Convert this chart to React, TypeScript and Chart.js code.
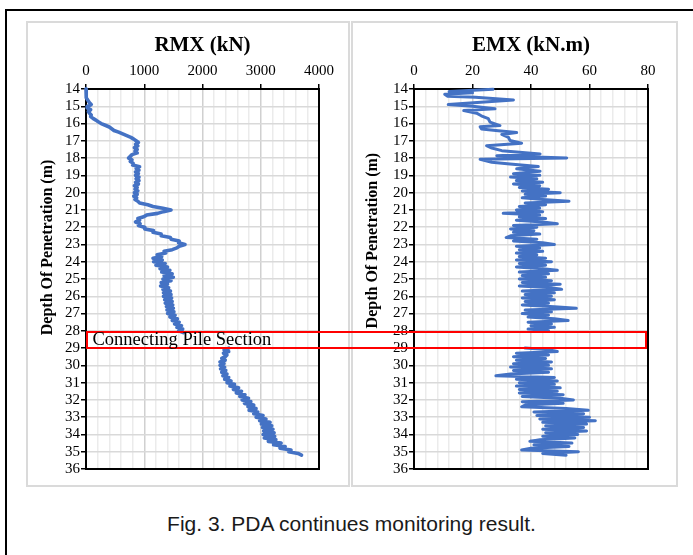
import React, { useEffect, useRef, useState } from "react";
import { Chart, registerables } from "chart.js";

Chart.register(...registerables);

// ---------- data ----------
const depthMin = 14;
const depthMax = 36;
const depthTitle = "Depth Of Penetration (m)";
const caption = "Fig. 3. PDA continues monitoring result.";
const connectingSection = [28, 29];
const connectingLabel = "Connecting Pile Section";

const rmxTitle = "RMX (kN)";
const rmxAxis = { max: 4000, step: 200, major: 1000 };
const rmxDepth = [
  14.0, 14.1, 14.2, 14.3, 14.4, 14.5, 14.6, 14.7, 14.8, 14.9,
  15.0, 15.1, 15.2, 15.3, 15.4, 15.5, 15.6, 15.7, 15.8, 15.9,
  16.0, 16.1, 16.2, 16.3, 16.4, 16.5, 16.6, 16.7, 16.8, 16.9,
  17.0, 17.1, 17.2, 17.3, 17.4, 17.5, 17.6, 17.7, 17.8, 17.9,
  18.0, 18.1, 18.2, 18.3, 18.4, 18.5, 18.6, 18.7, 18.8, 18.9,
  19.0, 19.1, 19.2, 19.3, 19.4, 19.5, 19.6, 19.7, 19.8, 19.9,
  20.0, 20.1, 20.2, 20.3, 20.4, 20.5, 20.6, 20.7, 20.8, 20.9,
  21.0, 21.1, 21.2, 21.3, 21.4, 21.5, 21.6, 21.7, 21.8, 21.9,
  22.0, 22.1, 22.2, 22.3, 22.4, 22.5, 22.6, 22.7, 22.8, 22.9,
  23.0, 23.1, 23.2, 23.3, 23.4, 23.5, 23.6, 23.7, 23.8, 23.9,
  24.0, 24.1, 24.2, 24.3, 24.4, 24.5, 24.6, 24.7, 24.8, 24.9,
  25.0, 25.1, 25.2, 25.3, 25.4, 25.5, 25.6, 25.7, 25.8, 25.9,
  26.0, 26.1, 26.2, 26.3, 26.4, 26.5, 26.6, 26.7, 26.8, 26.9,
  27.0, 27.1, 27.2, 27.3, 27.4, 27.5, 27.6, 27.7, 27.8, 27.9,
  28.0, 28.1,
  28.5,
  29.0, 29.1, 29.2, 29.3, 29.4, 29.5, 29.6, 29.7, 29.8, 29.9,
  30.0, 30.1, 30.2, 30.3, 30.4, 30.5, 30.6, 30.7, 30.8, 30.9,
  31.0, 31.1, 31.2, 31.3, 31.4, 31.5, 31.6, 31.7, 31.8, 31.9,
  32.0, 32.1, 32.2, 32.3, 32.4, 32.5, 32.6, 32.7, 32.8, 32.9,
  33.0, 33.1, 33.2, 33.3, 33.4, 33.5, 33.6, 33.7, 33.8, 33.9,
  34.0, 34.1, 34.2, 34.3, 34.4, 34.5, 34.6, 34.7, 34.8, 34.9,
  35.0, 35.1, 35.2,
];
const rmxValue = [
  0, 0, 5, 0, 10, 5, 20, 40, 60, 90,
  30, 20, 80, 40, 60, 90, 80, 120, 170, 210,
  260, 330, 400, 440, 480, 560, 630, 700, 770, 820,
  860, 900, 850, 890, 830, 880, 840, 880, 790, 760,
  730, 790, 760, 810, 800, 920, 860, 910, 850, 900,
  850, 910, 860, 910, 850, 900, 830, 880, 840, 890,
  830, 880, 820, 870, 840, 890, 920, 1060, 1150, 1320,
  1460, 1330, 1230, 1040, 990, 890, 920, 850, 930, 900,
  1000, 1010, 1160, 1150, 1290, 1290, 1450, 1460, 1600, 1590,
  1700, 1600, 1560, 1480, 1340, 1370, 1220, 1300, 1150, 1310,
  1160, 1360, 1200, 1400, 1270, 1440, 1300, 1480, 1340, 1500,
  1320, 1460, 1290, 1400, 1280, 1420, 1320, 1450, 1330, 1460,
  1330, 1470, 1350, 1480, 1360, 1490, 1380, 1500, 1390, 1510,
  1400, 1530, 1440, 1570, 1480, 1600, 1520, 1640, 1560, 1660,
  1590, 1670,
  null,
  2450, 2370, 2450, 2360, 2420, 2390, 2330, 2390, 2300, 2370,
  2300, 2380, 2310, 2400, 2330, 2420, 2350, 2450, 2380, 2490,
  2420, 2550, 2470, 2620, 2530, 2670, 2580, 2730, 2640, 2790,
  2680, 2830, 2720, 2880, 2780, 2920, 2800, 2950, 2880, 3040,
  2920, 3090, 2980, 3160, 3010, 3190, 3030, 3210, 3050, 3230,
  3040, 3240, 3060, 3260, 3130, 3350, 3220, 3420, 3330, 3520,
  3480, 3640, 3700,
];

const emxTitle = "EMX (kN.m)";
const emxAxis = { max: 80, step: 4, major: 20 };
const emxDepth = [
  14.02, 14.15, 14.22, 14.3, 14.42, 14.48, 14.63, 14.9, 15.0, 15.15,
  15.25, 15.4, 15.55, 15.72, 15.92, 16.12, 16.18, 16.32, 16.42, 16.52,
  16.63, 16.8, 16.98, 17.14, 17.28, 17.42, 17.57, 17.76, 17.86, 17.99,
  18.07, 18.24, 18.34, 18.49, 18.62, 18.76,
  18.9, 19.0, 19.1, 19.2, 19.3, 19.4, 19.5, 19.6, 19.7, 19.8, 19.9,
  20.0, 20.1, 20.2, 20.3, 20.4, 20.5, 20.6, 20.7, 20.8, 20.9,
  21.0, 21.1, 21.2, 21.3, 21.4, 21.5, 21.6, 21.7, 21.8, 21.9,
  22.0, 22.1, 22.2, 22.3, 22.4, 22.5, 22.6, 22.7, 22.8, 22.9,
  23.0, 23.1, 23.2, 23.3, 23.4, 23.5, 23.6, 23.7, 23.8, 23.9,
  24.0, 24.1, 24.2, 24.3, 24.4, 24.5, 24.6, 24.7, 24.8, 24.9,
  25.0, 25.1, 25.2, 25.3, 25.4, 25.5, 25.6, 25.7, 25.8, 25.9,
  26.0, 26.1, 26.2, 26.3, 26.4, 26.5, 26.6, 26.7, 26.8, 26.9,
  27.0, 27.1, 27.2, 27.3, 27.4, 27.5, 27.6, 27.7, 27.8, 27.9,
  28.0,
  28.5,
  29.0, 29.1, 29.2, 29.3, 29.4, 29.5, 29.6, 29.7, 29.8, 29.9,
  30.0, 30.1, 30.2, 30.3, 30.4, 30.5, 30.6, 30.7, 30.8, 30.9,
  31.0, 31.1, 31.2, 31.3, 31.4, 31.5, 31.6, 31.7, 31.8, 31.9,
  32.0, 32.1, 32.2, 32.3, 32.4, 32.5, 32.6, 32.7, 32.8, 32.9,
  33.0, 33.1, 33.2, 33.3, 33.4, 33.5, 33.6, 33.7, 33.8, 33.9,
  34.0, 34.1, 34.2, 34.3, 34.4, 34.5, 34.6, 34.7, 34.8, 34.9,
  35.0, 35.1, 35.2,
];
const emxValue = [
  27, 12, 20, 10.5, 11.5, 21, 34, 11.7, 20, 27.7,
  17, 21.4, 23, 25.4, 26, 29.4, 22.6, 23.1, 28.8, 35.1,
  30, 32.3, 32.8, 36.8, 24.8, 26.6, 30, 43.1, 28.3, 52.2,
  22.6, 26.6, 32.8, 42.5, 35.1, 43.1,
  34, 43, 33, 42, 35, 44, 34, 43, 36, 46, 37,
  50, 38, 45, 37, 44, 53, 38, 45, 36, 43,
  35, 44, 30.5, 43, 36, 45, 35, 44, 49, 34,
  42, 33, 41, 34, 43, 33, 31.5, 42, 34, 44,
  48, 35, 43, 36, 44, 35, 42, 36, 45, 35,
  47, 36, 45, 35, 44, 49, 36, 46, 37, 45,
  36, 47, 37, 50, 36, 47, 50.5, 37, 48, 38,
  47, 37, 48, 38, 46, 37, 48, 55.5, 38, 47,
  37, 46, 39, 48, 52.7, 39, 47, 40, 48, 39,
  46,
  null,
  38, 46, 49, 35, 46, 34, 45, 35, 47, 34,
  46, 33, 47, 34, 46, 33, 28, 48, 35, 49,
  36, 48, 35, 50, 36, 49, 36, 51, 37, 50,
  54.5, 37, 51, 38, 36.8, 52, 59.6, 41, 58, 42,
  60, 43, 62, 44, 59, 45, 58, 44, 59, 45,
  56, 44, 55, 43, 39.6, 54, 41, 53, 40, 36.8,
  56.2, 44, 52,
];

// ---------- styling ----------
const LINE_COLOR = "#4472C4";
const SERIF = '"Liberation Serif", "Times New Roman", serif';

const LEFT_PANEL = { x: 26, y: 21, w: 324, h: 466 };
const RIGHT_PANEL = { x: 351, y: 21, w: 327, h: 466 };

type Spec = {
  key: string;
  title: string;
  depth: number[];
  values: (number | null)[];
  axis: { max: number; step: number; major: number };
  yWidth: number;
  padRight: number;
  lineWidth: number;
  yTitleOffset: number;
  yTitleFrac: number;
};

const isMajor = (v: number, major: number) => {
  const r = Math.abs(v % major);
  return r < 1e-6 || Math.abs(r - major) < 1e-6;
};

function buildChart(canvas: HTMLCanvasElement, spec: Spec) {
  const data = spec.depth.map((d, i) => ({ x: spec.values[i], y: d }));
  const decor = {
    id: "decor-" + spec.key,
    beforeDatasetsDraw(chart: any) {
      const { ctx, chartArea: a } = chart;
      ctx.save();
      ctx.strokeStyle = "#000";
      ctx.lineWidth = 2;
      ctx.strokeRect(a.left, a.top, a.right - a.left, a.bottom - a.top);
      ctx.restore();
    },
    afterDraw(chart: any) {
      const { ctx, chartArea: a } = chart;
      ctx.save();
      ctx.fillStyle = "#000";
      ctx.font = "bold 21px " + SERIF;
      ctx.textAlign = "center";
      ctx.textBaseline = "alphabetic";
      ctx.fillText(spec.title, (a.left + a.right) / 2, a.top - 38);
      ctx.font = "bold 16px " + SERIF;
      ctx.translate(a.left - spec.yTitleOffset, a.top + (a.bottom - a.top) * spec.yTitleFrac);
      ctx.rotate(-Math.PI / 2);
      ctx.fillText(depthTitle, 0, 0);
      ctx.restore();
    },
  };

  return new Chart(canvas, {
    type: "scatter",
    data: {
      datasets: [
        {
          data: data as any,
          showLine: true,
          borderColor: LINE_COLOR,
          backgroundColor: LINE_COLOR,
          borderWidth: spec.lineWidth,
          borderJoinStyle: "round",
          borderCapStyle: "round",
          pointRadius: 0,
          pointHoverRadius: 0,
          tension: 0,
          spanGaps: false,
          clip: 6,
        } as any,
      ],
    },
    options: {
      responsive: false,
      animation: false,
      devicePixelRatio: 1,
      events: [],
      layout: { padding: { left: 0, top: 0, right: spec.padRight, bottom: 18 } },
      plugins: { legend: { display: false }, tooltip: { enabled: false }, title: { display: false } },
      scales: {
        x: {
          type: "linear",
          position: "top",
          min: 0,
          max: spec.axis.max,
          afterFit: (s: any) => {
            s.height = 68;
          },
          border: { display: false },
          grid: {
            color: (c: any) => (isMajor(c.tick.value, spec.axis.major) ? "#d0d0d0" : "#ebebeb"),
            lineWidth: 1.5,
            tickColor: (c: any) => (isMajor(c.tick.value, spec.axis.major) ? "#000" : "rgba(0,0,0,0)"),
            tickLength: 5,
            tickWidth: 1.5,
            drawTicks: true,
          },
          ticks: {
            stepSize: spec.axis.step,
            autoSkip: false,
            maxRotation: 0,
            minRotation: 0,
            padding: 4,
            color: "#000",
            font: { family: SERIF, size: 15 },
            callback: (v: any) => (isMajor(Number(v), spec.axis.major) ? String(v) : ""),
          },
        },
        y: {
          type: "linear",
          position: "left",
          reverse: true,
          min: depthMin,
          max: depthMax,
          afterFit: (s: any) => {
            s.width = spec.yWidth;
          },
          border: { display: false },
          grid: {
            color: "#d9d9d9",
            lineWidth: 1.5,
            tickColor: "#000",
            tickLength: 5,
            tickWidth: 1.5,
            drawTicks: true,
          },
          ticks: {
            stepSize: 1,
            autoSkip: false,
            padding: 1,
            color: "#000",
            font: { family: SERIF, size: 15 },
          },
        },
      },
    } as any,
    plugins: [decor],
  });
}

const rmxSpec: Spec = {
  key: "rmx",
  title: rmxTitle,
  depth: rmxDepth,
  values: rmxValue,
  axis: rmxAxis,
  yWidth: 60,
  padRight: 31,
  lineWidth: 3.6,
  yTitleOffset: 34,
  yTitleFrac: 0.417,
};

const emxSpec: Spec = {
  key: "emx",
  title: emxTitle,
  depth: emxDepth,
  values: emxValue,
  axis: emxAxis,
  yWidth: 63,
  padRight: 30,
  lineWidth: 3,
  yTitleOffset: 37,
  yTitleFrac: 0.399,
};

export default function App() {
  const leftRef = useRef<HTMLCanvasElement>(null);
  const rightRef = useRef<HTMLCanvasElement>(null);
  const [box, setBox] = useState<null | { left: number; top: number; width: number; height: number }>(null);

  useEffect(() => {
    const c1 = buildChart(leftRef.current as HTMLCanvasElement, rmxSpec);
    const c2 = buildChart(rightRef.current as HTMLCanvasElement, emxSpec);
    const l = LEFT_PANEL.x + c1.scales.x.getPixelForValue(0);
    const t = LEFT_PANEL.y + c1.scales.y.getPixelForValue(connectingSection[0]);
    const b = LEFT_PANEL.y + c1.scales.y.getPixelForValue(connectingSection[1]);
    const r = RIGHT_PANEL.x + c2.scales.x.getPixelForValue(emxAxis.max) - 1.5;
    setBox({ left: l, top: t, width: r - l, height: b - t + 1 });
    return () => {
      c1.destroy();
      c2.destroy();
    };
  }, []);

  const panelStyle = (p: { x: number; y: number; w: number; h: number }): React.CSSProperties => ({
    position: "absolute",
    left: p.x,
    top: p.y,
    width: p.w,
    height: p.h,
    border: "2px solid #dadada",
    boxSizing: "border-box",
  });
  const canvasStyle = (p: { x: number; y: number; w: number; h: number }): React.CSSProperties => ({
    position: "absolute",
    left: p.x,
    top: p.y,
    width: p.w,
    height: p.h,
  });

  return (
    <div
      style={{
        position: "absolute",
        left: 0,
        top: 0,
        width: 693,
        height: 555,
        overflow: "hidden",
        background: "#fff",
      }}
    >
      <div
        style={{
          position: "absolute",
          left: 5,
          top: 9,
          width: 800,
          height: 700,
          borderLeft: "2px solid #000",
          borderTop: "2px solid #000",
        }}
      />
      <div style={panelStyle(LEFT_PANEL)} />
      <div style={panelStyle(RIGHT_PANEL)} />
      <canvas ref={leftRef} width={LEFT_PANEL.w} height={LEFT_PANEL.h} style={canvasStyle(LEFT_PANEL)} />
      <canvas ref={rightRef} width={RIGHT_PANEL.w} height={RIGHT_PANEL.h} style={canvasStyle(RIGHT_PANEL)} />
      {box && (
        <div
          style={{
            position: "absolute",
            left: box.left,
            top: box.top,
            width: box.width,
            height: box.height,
            border: "2px solid #ff0000",
            boxSizing: "border-box",
          }}
        />
      )}
      {box && (
        <div
          style={{
            position: "absolute",
            left: box.left + 6.5,
            top: box.top - 1.3,
            fontFamily: SERIF,
            fontSize: "18.5px",
            lineHeight: "18.5px",
            whiteSpace: "nowrap",
            color: "#000",
          }}
        >
          {connectingLabel}
        </div>
      )}
      <div
        style={{
          position: "absolute",
          left: 151.5,
          width: 400,
          top: 513,
          textAlign: "center",
          fontFamily: '"Liberation Sans", Arial, sans-serif',
          fontSize: "21px",
          lineHeight: "21px",
          whiteSpace: "nowrap",
          color: "#1a1a1a",
        }}
      >
        {caption}
      </div>
    </div>
  );
}
